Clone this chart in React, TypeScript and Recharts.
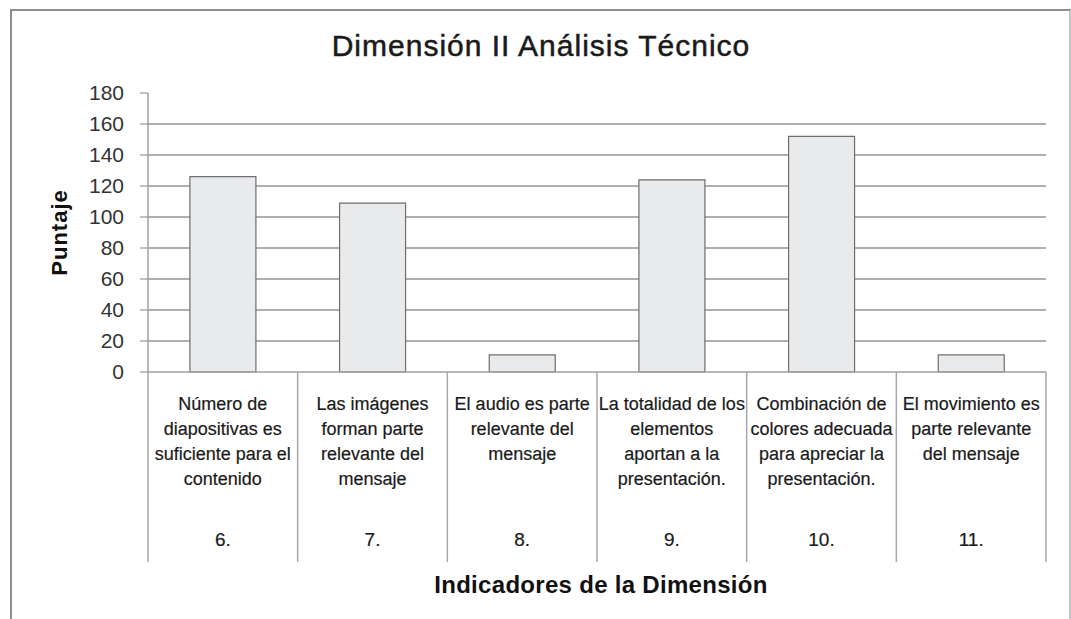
import React from 'react';
import { BarChart, Bar, XAxis, YAxis, CartesianGrid, Label } from 'recharts';

const categories = ['6.', '7.', '8.', '9.', '10.', '11.'];
const descriptions: string[][] = [
  ['Número de', 'diapositivas es', 'suficiente para el', 'contenido'],
  ['Las imágenes', 'forman parte', 'relevante del', 'mensaje'],
  ['El audio es parte', 'relevante del', 'mensaje'],
  ['La totalidad de los', 'elementos', 'aportan a la', 'presentación.'],
  ['Combinación de', 'colores adecuada', 'para apreciar la', 'presentación.'],
  ['El movimiento es', 'parte relevante', 'del mensaje'],
];
const puntaje = [126, 109, 11, 124, 152, 11];
const yTicks = [0, 20, 40, 60, 80, 100, 120, 140, 160, 180];
const gridValues = [20, 40, 60, 80, 100, 120, 140, 160];

const chartTitle = 'Dimensión II Análisis Técnico';
const xTitle = 'Indicadores de la Dimensión';
const yTitle = 'Puntaje';

const data = categories.map((c, i) => ({ cat: c, desc: descriptions[i], value: puntaje[i] }));

const W = 1071;
const H = 619;
const MARGIN = { top: 93, right: 25, left: 48, bottom: 57 };
const Y_AXIS_W = 100;
const X_AXIS_H = 190;
const PLOT_W = W - MARGIN.left - MARGIN.right - Y_AXIS_W;
const BAND = PLOT_W / categories.length;

const FONT = '"Liberation Sans", Arial, sans-serif';

const CategoryTick = (props: any) => {
  const { x, y, payload, index } = props;
  const i = typeof index === 'number' ? index : categories.indexOf(payload.value);
  const lines = descriptions[i] || [];
  const last = i === categories.length - 1;
  return (
    <g>
      <line x1={x - BAND / 2} x2={x - BAND / 2} y1={y} y2={y + X_AXIS_H} stroke="#a8a8a8" strokeWidth={1.5} />
      {last && (
        <line x1={x + BAND / 2} x2={x + BAND / 2} y1={y} y2={y + X_AXIS_H} stroke="#a8a8a8" strokeWidth={1.5} />
      )}
      <text textAnchor="middle" fontFamily={FONT} fontSize={18} fill="#1a1a1a" stroke="#1a1a1a" strokeWidth={0.2}>
        {lines.map((l, k) => (
          <tspan key={k} x={x} y={y + 38 + k * 25}>
            {l}
          </tspan>
        ))}
      </text>
      <text x={x} y={y + 174} textAnchor="middle" fontFamily={FONT} fontSize={19} fill="#1a1a1a" stroke="#1a1a1a" strokeWidth={0.2}>
        {payload.value}
      </text>
    </g>
  );
};

const YTitle = (props: any) => {
  const vb = props.viewBox || { x: MARGIN.left, y: MARGIN.top, width: Y_AXIS_W, height: 279 };
  const cx = vb.x + 11.5;
  const cy = vb.y + vb.height / 2;
  return (
    <text
      x={cx}
      y={cy}
      transform={`rotate(-90 ${cx} ${cy})`}
      textAnchor="middle"
      dominantBaseline="central"
      fontFamily={FONT}
      fontWeight="bold"
      fontSize={22}
      letterSpacing={1}
      fill="#111"
    >
      {yTitle}
    </text>
  );
};

const XTitle = (props: any) => {
  const vb = props.viewBox || { x: MARGIN.left + Y_AXIS_W, y: 372, width: PLOT_W, height: X_AXIS_H };
  return (
    <text
      x={vb.x + vb.width / 2 + 4}
      y={vb.y + vb.height + 31}
      textAnchor="middle"
      fontFamily={FONT}
      fontWeight="bold"
      fontSize={24}
      letterSpacing={0.3}
      fill="#111"
    >
      {xTitle}
    </text>
  );
};

export default function App() {
  return (
    <div style={{ position: 'absolute', left: 0, top: 0, width: W, height: H, overflow: 'hidden', background: '#fff' }}>
      <div
        style={{
          position: 'absolute',
          left: 10,
          top: 9,
          width: 1061,
          height: 610,
          boxSizing: 'border-box',
          borderLeft: '2px solid #8e8e8e',
          borderTop: '2px solid #8e8e8e',
          borderRight: '2px solid #c4c4c4',
        }}
      />
      <svg style={{ position: 'absolute', left: 0, top: 0 }} width={W} height={70}>
        <text
          x={541}
          y={56}
          textAnchor="middle"
          fontFamily={FONT}
          fontSize={30}
          letterSpacing={1}
          fill="#1a1a1a"
          stroke="#1a1a1a"
          strokeWidth={0.5}
        >
          {chartTitle}
        </text>
      </svg>
      <div style={{ position: 'absolute', left: 0, top: 0 }}>
        <BarChart width={W} height={H} data={data} margin={MARGIN} barCategoryGap="28%">
          <CartesianGrid
            vertical={false}
            horizontalValues={gridValues}
            stroke="#959595"
            strokeWidth={1.3}
          />
          <XAxis
            dataKey="cat"
            height={X_AXIS_H}
            interval={0}
            tickSize={0}
            tickMargin={0}
            tickLine={false}
            axisLine={{ stroke: '#a0a0a0', strokeWidth: 1.5 }}
            tick={<CategoryTick />}
          >
            <Label content={XTitle} />
          </XAxis>
          <YAxis
            width={Y_AXIS_W}
            domain={[0, 180]}
            ticks={yTicks}
            interval={0}
            tickSize={8}
            tickMargin={16}
            tickLine={{ stroke: '#a0a0a0', strokeWidth: 1.3 }}
            axisLine={{ stroke: '#a0a0a0', strokeWidth: 1.5 }}
            tick={{ fontFamily: FONT, fontSize: 21, fill: '#333' }}
          >
            <Label content={YTitle} />
          </YAxis>
          <Bar dataKey="value" fill="#e9eaec" stroke="#6e6e6e" strokeWidth={1.2} isAnimationActive={false} />
        </BarChart>
      </div>
    </div>
  );
}
